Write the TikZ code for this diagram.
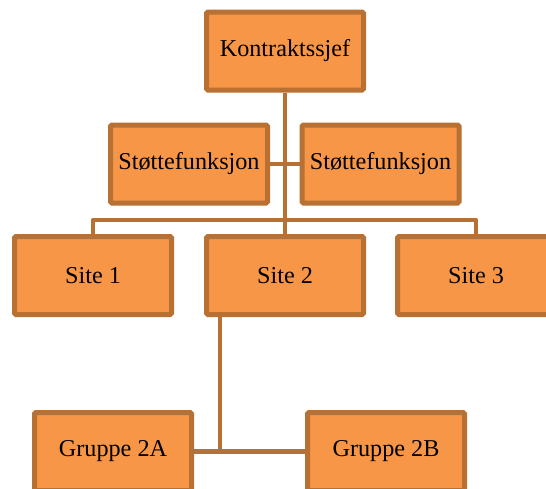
\documentclass[tikz,border=0pt]{standalone}
\usepackage{fontspec}
\setmainfont{Liberation Serif}
\definecolor{boxfill}{RGB}{247,150,70}
\definecolor{boxline}{RGB}{184,112,51}
\begin{document}
\begin{tikzpicture}[x=1pt,y=-1pt,
  orgbox/.style={draw=boxline, fill=boxfill, line width=5pt, rounded corners=1.5pt,
    minimum width=157pt, minimum height=78pt, inner sep=0pt,
    font=\fontsize{24.2}{29}\selectfont, text=black},
  link/.style={draw=boxline, line width=4.5pt, line join=round}]
\useasboundingbox (0,0) rectangle (546,488);
\clip (0,0) rectangle (546,488);

% top level and staff functions
\node[orgbox] (K)  at (285,51)    {Kontraktssjef};
\node[orgbox] (SL) at (189,164)   {Støttefunksjon};
\node[orgbox] (SR) at (380.5,164) {Støttefunksjon};

% sites
\node[orgbox] (S1) at (93,275.5)  {Site 1};
\node[orgbox] (S2) at (285,275.5) {Site 2};
\node[orgbox] (S3) at (476,275.5) {Site 3};

% groups under Site 2
\node[orgbox] (G2A) at (113,451.5) {Gruppe 2A};
\node[orgbox] (G2B) at (386,451.5) {Gruppe 2B};

% connectors
\coordinate (bus)    at (285,220);
\coordinate (s2drop) at (220,317);
\draw[link] (K.south) -- (S2.north);
\draw[link] (SL.east) -- (SR.west);
\draw[link] (S1.north) |- (bus) -| (S3.north);
\draw[link] (s2drop) -- (s2drop |- G2A.east);
\draw[link] (G2A.east) -- (G2B.west);
\end{tikzpicture}
\end{document}
